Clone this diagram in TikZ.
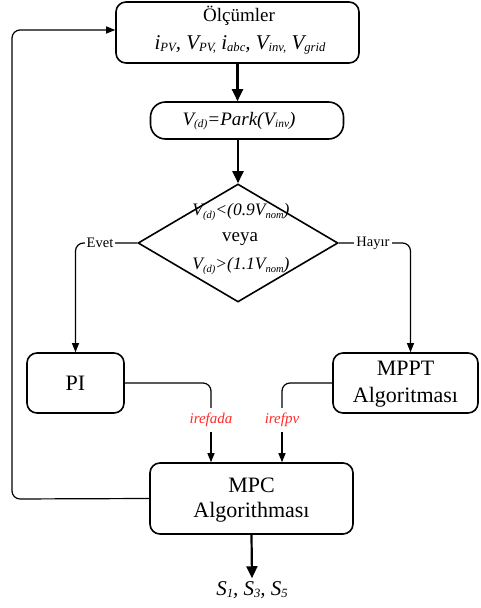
\documentclass[tikz,border=0pt]{standalone}
\usepackage{fontspec}
\setmainfont{Liberation Serif}
\usetikzlibrary{shapes.geometric,arrows.meta}
\definecolor{refred}{HTML}{FF2A2A}
\newcommand\fsz[1]{\fontsize{#1}{#1}\selectfont}
\makeatletter
\newcommand\sbs[1]{{\raisebox{-0.12em}{\fontsize{\fpeval{0.6*\strip@pt\dimexpr\f@size pt\relax}}{1}\selectfont #1}}}
\makeatother
\begin{document}
\begin{tikzpicture}[x=1pt,y=-1pt,
  box/.style={draw, line width=1.6pt, rounded corners=10pt, inner sep=0pt},
  txt/.style={inner sep=0pt, align=center},
  thinarrow/.style={line width=1.2pt, -{Triangle[length=9pt,width=7pt]}},
  thinline/.style={line width=1.2pt},
  boldarrow/.style={line width=2.2pt, -{Triangle[length=12pt,width=11pt]}},
  lab/.style={fill=white, inner sep=2pt, font=\fsz{14.5}},
  reflab/.style={text=refred, inner xsep=1pt, inner ysep=5pt, font=\fsz{15}\itshape}]

\useasboundingbox (0,0) rectangle (480,608);

% boxes
\node[box, minimum width=243pt, minimum height=61pt] (meas) at (237.5,32.5) {};
\node[txt, font=\fsz{19}] (meast1) at (239,16) {Ölçümler};
\node[txt, font=\fsz{21}\itshape] (meast2) at (240,45) {i\sbs{PV}, V\sbs{PV,} i\sbs{abc}, V\sbs{inv,} V\sbs{grid}};

\node[box, rounded corners=15pt, minimum width=193pt, minimum height=37pt] (park) at (247,120.5) {};
\node[txt, font=\fsz{19}\itshape] (parkt) at (239,121) {V\sbs{(d)}=Park(V\sbs{inv})};

\node[draw, diamond, line width=1.6pt, inner sep=0pt, minimum width=200pt, minimum height=118pt] (dia) at (238,243) {};
\node[txt, font=\fsz{17.5}\itshape] (diat1) at (241,212) {V\sbs{(d)}<(0.9V\sbs{nom})};
\node[txt, font=\fsz{19}] (diat2) at (240,239) {veya};
\node[txt, font=\fsz{17.5}\itshape] (diat3) at (241,266) {V\sbs{(d)}>(1.1V\sbs{nom})};

\node[box, minimum width=97pt, minimum height=60pt, font=\fsz{22}] (PI) at (75.5,383) {PI};

\node[box, minimum width=145pt, minimum height=60pt] (MPPT) at (405.5,383) {};
\node[txt, font=\fsz{22}] (mpptt1) at (405.5,368) {MPPT};
\node[txt, font=\fsz{22}] (mpptt2) at (405.5,397) {Algoritması};

\node[box, minimum width=203pt, minimum height=71pt] (MPC) at (251.5,498.5) {};
\node[txt, font=\fsz{22}] (mpct1) at (251.5,485) {MPC};
\node[txt, font=\fsz{22}] (mpct2) at (251.5,512) {Algorithması};

\node[font=\fsz{21}\itshape, inner sep=3pt] (out) at (252,590) {S\sbs{1}, S\sbs{3}, S\sbs{5}};

\node[reflab] (la) at (211,420) {irefada};
\node[reflab] (lb) at (282,420) {irefpv};

% connectors
\draw[boldarrow] (meas.south) -- (meas.south |- park.north);
\draw[boldarrow] (park.south -| dia.north) -- (dia.north);
\draw[thinarrow, rounded corners=8pt] (dia.west) -| (PI.north);
\node[lab] (evet) at (100,243) {Evet};
\draw[thinarrow, rounded corners=8pt] (dia.east) -| ([xshift=5pt]MPPT.north);
\node[lab] (hayir) at (373,243) {Hayır};
\draw[thinline, rounded corners=8pt] (PI.east) -| (la.north);
\draw[thinarrow] (la.south) -- (la.south |- MPC.north);
\draw[thinline, rounded corners=8pt] (MPPT.west) -| (lb.north);
\draw[thinarrow] (lb.south) -- (lb.south |- MPC.north);
\coordinate (loop) at (12,499);
\draw[thinarrow, rounded corners=8pt] (MPC.west) -- (loop) |- ([yshift=2.5pt]meas.west);
\draw[boldarrow] (MPC.south) -- (out.north);
\end{tikzpicture}
\end{document}
